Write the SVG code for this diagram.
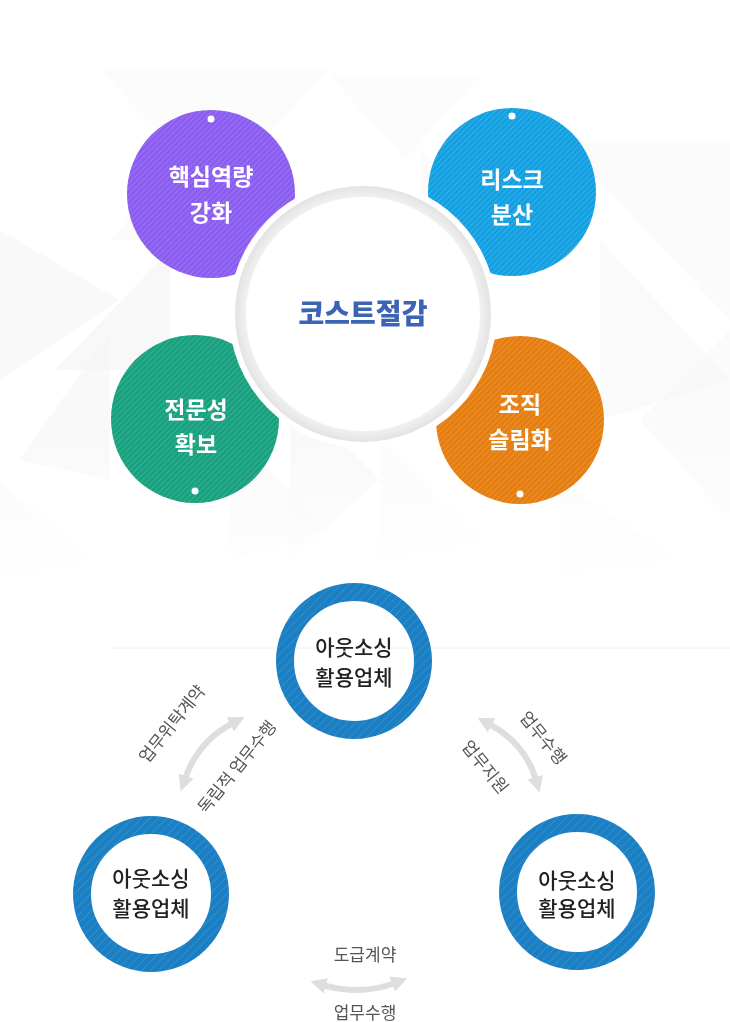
<svg xmlns="http://www.w3.org/2000/svg" width="730" height="1022" viewBox="0 0 730 1022">
<defs>
<style>
.lbl{font-family:"Noto Sans CJK KR","Noto Sans",sans-serif;font-weight:700;font-size:23px;fill:#fff;text-anchor:middle}
.title{font-family:"Noto Sans CJK KR","Noto Sans",sans-serif;font-weight:900;font-size:28px;fill:#3c64b4;text-anchor:middle}
.ring-t{font-family:"Noto Sans CJK KR","Noto Sans",sans-serif;font-weight:500;font-size:21px;fill:#222;text-anchor:middle}
.cap{font-family:"Noto Sans CJK KR","Noto Sans",sans-serif;font-weight:400;font-size:17px;fill:#555;text-anchor:middle}
.dot{fill:#fff}
.arrow{fill:none;stroke:#dedede;stroke-width:6;marker-start:url(#ah);marker-end:url(#ah)}
.bg{fill:#e9e9e9}
</style>
<pattern id="hatch" width="4" height="4" patternUnits="userSpaceOnUse" patternTransform="rotate(45)">
<line x1="0" y1="0" x2="0" y2="4" stroke="#fff" stroke-width="1" stroke-opacity="0.3"/>
</pattern>
<pattern id="hatch2" width="6" height="6" patternUnits="userSpaceOnUse" patternTransform="rotate(45)">
<line x1="0" y1="0" x2="0" y2="6" stroke="#fff" stroke-width="1.2" stroke-opacity="0.18"/>
</pattern>
<marker id="ah" viewBox="0 0 16 16" markerWidth="16" markerHeight="16" refX="3" refY="8" orient="auto-start-reverse" markerUnits="userSpaceOnUse">
<path d="M0 0 L16 8 L0 16 z" fill="#dedede"/>
</marker>
<radialGradient id="ringG" cx="50%" cy="50%" r="50%">
<stop offset="0.9" stop-color="#f3f3f3"/>
<stop offset="1" stop-color="#e3e3e3"/>
</radialGradient>
<linearGradient id="fade" x1="0" y1="0" x2="0" y2="1">
<stop offset="0" stop-color="#fff" stop-opacity="0"/>
<stop offset="1" stop-color="#fff" stop-opacity="1"/>
</linearGradient>
</defs>
<rect width="730" height="1022" fill="#fff"/>
<g id="background" opacity="0.45">
<polygon class="bg" points="100,70 330,70 215,190" opacity="0.35"/>
<polygon class="bg" points="330,75 480,75 405,160" opacity="0.3"/>
<polygon class="bg" points="0,230 120,300 0,380" opacity="0.6"/>
<polygon class="bg" points="55,370 170,250 170,370" opacity="0.7"/>
<polygon class="bg" points="20,460 110,330 110,480" opacity="0.6"/>
<polygon class="bg" points="110,240 300,240 200,140" opacity="0.4"/>
<polygon class="bg" points="290,390 380,480 290,560" opacity="0.6"/>
<polygon class="bg" points="230,430 330,530 230,560" opacity="0.5"/>
<polygon class="bg" points="420,150 540,260 420,260" opacity="0.45"/>
<polygon class="bg" points="560,140 730,140 730,320" opacity="0.4"/>
<polygon class="bg" points="600,240 730,380 600,420" opacity="0.5"/>
<polygon class="bg" points="640,420 730,330 730,520" opacity="0.4"/>
<polygon class="bg" points="380,440 480,540 380,560" opacity="0.35"/>
<polygon class="bg" points="560,480 680,560 560,580" opacity="0.35"/>
<polygon class="bg" points="0,480 90,560 0,580" opacity="0.4"/>
<rect x="0" y="440" width="730" height="150" fill="url(#fade)"/>
</g>
<line x1="112" y1="648" x2="730" y2="648" stroke="#f0f0f0" stroke-width="1"/>

<g id="node-core">
<circle cx="211" cy="194" r="84" fill="#8a5cf0"/>
<circle cx="211" cy="194" r="84" fill="url(#hatch)"/>
<circle class="dot" cx="211" cy="119" r="3.5"/>
<text class="lbl" x="211" y="185">핵심역량</text>
<text class="lbl" x="211" y="221">강화</text>
</g>
<g id="node-risk">
<circle cx="512" cy="192" r="84" fill="#12a0e2"/>
<circle cx="512" cy="192" r="84" fill="url(#hatch)"/>
<circle class="dot" cx="512" cy="116" r="3.5"/>
<text class="lbl" x="512" y="188">리스크</text>
<text class="lbl" x="512" y="223">분산</text>
</g>
<g id="node-expert">
<circle cx="195" cy="419" r="84" fill="#17a17e"/>
<circle cx="195" cy="419" r="84" fill="url(#hatch)"/>
<circle class="dot" cx="195" cy="491" r="3.5"/>
<text class="lbl" x="196" y="418">전문성</text>
<text class="lbl" x="196" y="453">확보</text>
</g>
<g id="node-slim">
<circle cx="520" cy="420" r="84" fill="#e67d0f"/>
<circle cx="520" cy="420" r="84" fill="url(#hatch)"/>
<circle class="dot" cx="520" cy="494" r="3.5"/>
<text class="lbl" x="520" y="413">조직</text>
<text class="lbl" x="520" y="448">슬림화</text>
</g>
<g id="node-center">
<circle cx="363" cy="314" r="134" fill="#fff"/>
<circle cx="363" cy="314" r="128" fill="url(#ringG)"/>
<circle cx="363" cy="314" r="117" fill="#fff"/>
<text class="title" x="363" y="324">코스트절감</text>
</g>

<g id="connectors">
<path class="arrow" d="M 233 723 Q 198 741 185 779"/>
<path class="arrow" d="M 489 724 Q 525 743 536 780"/>
<path class="arrow" d="M 323 985 Q 360 996 395 983"/>
<text class="cap" transform="translate(172,724) rotate(-51)" y="6">업무위탁계약</text>
<text class="cap" transform="translate(237,767) rotate(-51)" y="6">독립적 업무수행</text>
<text class="cap" transform="translate(543,738) rotate(51)" y="6">업무수행</text>
<text class="cap" transform="translate(485,767) rotate(51)" y="6">업무지원</text>
<text class="cap" x="365" y="961">도급계약</text>
<text class="cap" x="365" y="1019">업무수행</text>
</g>

<g id="node-outsource-top">
<circle cx="354" cy="661" r="69" fill="none" stroke="#1b7fc4" stroke-width="18"/>
<circle cx="354" cy="661" r="69" fill="none" stroke="url(#hatch2)" stroke-width="18"/>
<text class="ring-t" x="354" y="655">아웃소싱</text>
<text class="ring-t" x="354" y="685">활용업체</text>
</g>
<g id="node-outsource-left">
<circle cx="151" cy="894" r="69" fill="none" stroke="#1b7fc4" stroke-width="18"/>
<circle cx="151" cy="894" r="69" fill="none" stroke="url(#hatch2)" stroke-width="18"/>
<text class="ring-t" x="151" y="886">아웃소싱</text>
<text class="ring-t" x="151" y="916">활용업체</text>
</g>
<g id="node-outsource-right">
<circle cx="577" cy="892" r="69" fill="none" stroke="#1b7fc4" stroke-width="18"/>
<circle cx="577" cy="892" r="69" fill="none" stroke="url(#hatch2)" stroke-width="18"/>
<text class="ring-t" x="577" y="888">아웃소싱</text>
<text class="ring-t" x="577" y="916">활용업체</text>
</g>
</svg>
